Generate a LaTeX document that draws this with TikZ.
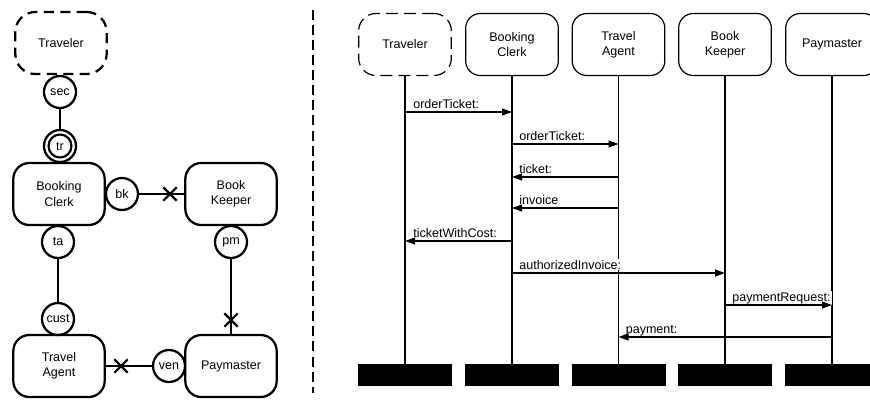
\documentclass[tikz,border=0pt]{standalone}
\usepackage{fontspec}
\setmainfont{Liberation Sans}
\usetikzlibrary{arrows.meta,shapes.misc}
\begin{document}
\begin{tikzpicture}[x=0.75pt,y=-0.75pt,
  font=\fontsize{9.4pt}{11.5pt}\selectfont,
  % collaboration view
  lbox/.style={draw, line width=1.7pt, rounded corners=12pt, minimum width=68.5pt,
    minimum height=46.5pt, align=center, inner sep=0pt},
  ldash/.style={lbox, dash pattern=on 7.5pt off 4.8pt, rounded corners=15pt},
  port/.style={draw, circle, line width=1.7pt, minimum size=24pt, inner sep=0pt},
  link/.style={line width=1.7pt},
  xmark/.style={draw, cross out, line width=1.6pt, minimum size=8.5pt, inner sep=0pt},
  sepline/.style={line width=1.5pt, dash pattern=on 7.5pt off 3.8pt},
  % sequence view
  rbox/.style={draw, line width=0.9pt, rounded corners=11pt, minimum width=69.5pt,
    minimum height=46.5pt, align=center, inner sep=0pt},
  rdash/.style={rbox, dash pattern=on 9pt off 4.5pt, rounded corners=13pt},
  endbar/.style={fill=black, minimum width=70.5pt, minimum height=16.5pt, inner sep=0pt},
  lifeline/.style={line width=0.8pt},
  msg/.style={line width=0.8pt, -{Triangle[length=7.5pt,width=5.2pt]}},
  mlabel/.style={anchor=base west, fill=white, inner sep=0.8pt}]

\useasboundingbox (0,0) rectangle (870,400);

% ---------- collaboration view ----------
\node[ldash] (trav) at (61,43) {Traveler};
\node[lbox] (clerk) at (59,194) {Booking\\Clerk};
\node[lbox] (keeper) at (231,194) {Book\\Keeper};
\node[lbox] (agent) at (59,366) {Travel\\Agent};
\node[lbox] (paym) at (231,366) {Paymaster};

\node[port] (sec) at (60,92) {sec};
\node[port] (tr) at (60,146) {tr};
\draw[line width=1.6pt] (tr.center) circle[radius=11.5];
\node[port] (bk) at (122,194) {bk};
\node[port] (ta) at (58,242) {ta};
\node[port] (cust) at (58,319) {cust};
\node[port] (pm) at (231,242) {pm};
\node[port] (ven) at (169,366) {ven};

\draw[link] (sec) -- (tr);
\draw[link] (bk) -- (keeper);
\draw[link] (ta) -- (cust);
\draw[link] (pm) -- (paym);
\draw[link] (agent) -- (ven);

\node[xmark] (x1) at (170,194) {};
\node[xmark] (x2) at (231,320) {};
\node[xmark] (x3) at (121,366) {};

% divider between the two views
\coordinate (septop) at (313,10);
\coordinate (sepbot) at (313,393);
\draw[sepline] (septop) -- (sepbot);

% ---------- sequence view ----------
\node[rdash] (strav) at (405,44.5) {Traveler};
\node[rbox] (sclerk) at (512,44.5) {Booking\\Clerk};
\node[rbox] (sagent) at (618.5,44.5) {Travel\\Agent};
\node[rbox] (skeeper) at (725,44.5) {Book\\Keeper};
\node[rbox] (spay) at (832,44.5) {Paymaster};

\node[endbar] (btrav) at (405,375) {};
\node[endbar] (bclerk) at (512,375) {};
\node[endbar] (bagent) at (618.5,375) {};
\node[endbar] (bkeeper) at (725,375) {};
\node[endbar] (bpay) at (832,375) {};

\draw[lifeline] (strav.south) -- (btrav.north);
\draw[lifeline] (sclerk.south) -- (bclerk.north);
\draw[lifeline] (sagent.south) -- (bagent.north);
\draw[lifeline] (skeeper.south) -- (bkeeper.north);
\draw[lifeline] (spay.south) -- (bpay.north);

% message labels sit just above their arrows, on a white ground
\path (strav |- 0,112) ++(7,-4) node[mlabel] (l1) {orderTicket:};
\path (sclerk |- 0,144) ++(6,-4) node[mlabel] (l2) {orderTicket:};
\path (sclerk |- 0,177) ++(6,-4) node[mlabel] (l3) {ticket:};
\path (sclerk |- 0,208) ++(6,-4) node[mlabel] (l4) {invoice};
\path (strav |- 0,241) ++(7,-4) node[mlabel] (l5) {ticketWithCost:};
\path (sclerk |- 0,273) ++(6,-4) node[mlabel] (l6) {authorizedInvoice:};
\path (skeeper |- 0,305) ++(6,-4) node[mlabel] (l7) {paymentRequest:};
\path (sagent |- 0,337) ++(6,-4) node[mlabel] (l8) {payment:};

\draw[msg] (strav |- 0,112) -- (sclerk |- 0,112);
\draw[msg] (sclerk |- 0,144) -- (sagent |- 0,144);
\draw[msg] (sagent |- 0,177) -- (sclerk |- 0,177);
\draw[msg] (sagent |- 0,208) -- (sclerk |- 0,208);
\draw[msg] (sclerk |- 0,241) -- (strav |- 0,241);
\draw[msg] (sclerk |- 0,273) -- (skeeper |- 0,273);
\draw[msg] (skeeper |- 0,305) -- (spay |- 0,305);
\draw[msg] (spay |- 0,337) -- (sagent |- 0,337);
\end{tikzpicture}
\end{document}
